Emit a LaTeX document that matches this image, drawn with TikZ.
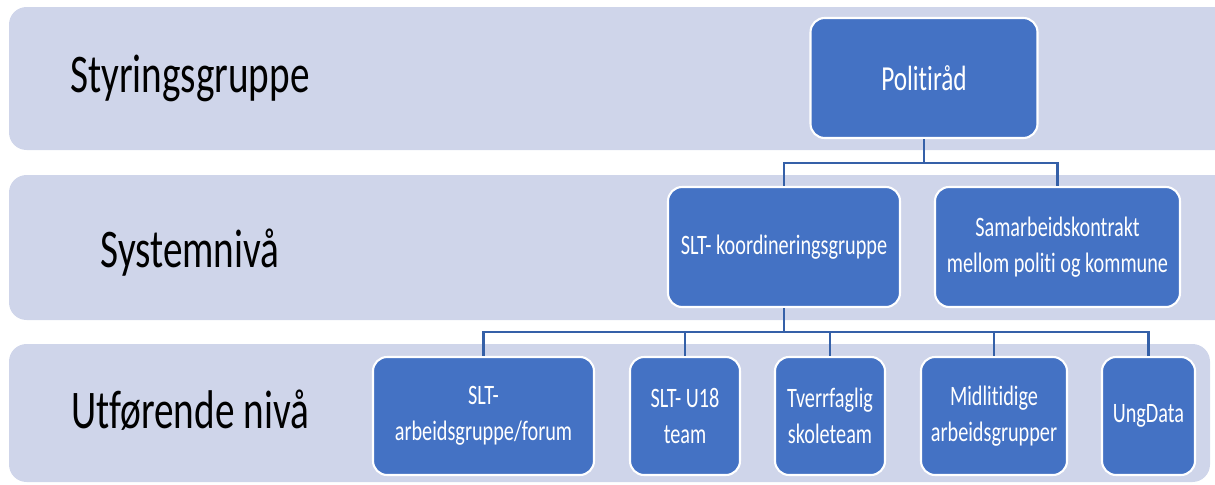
\documentclass[tikz,border=0pt]{standalone}
\usepackage{fontspec}
\setmainfont{Carlito}[FakeStretch=0.72, Ligatures=NoCommon]
\usepackage{tikz}
\usepackage{xcolor}
\definecolor{bandfill}{HTML}{CFD5EA}
\definecolor{boxfill}{HTML}{4472C4}
\definecolor{linkblue}{HTML}{3560A8}

\begin{document}
\begin{tikzpicture}[x=0.02cm, y=-0.02cm,
		band/.style = {fill=bandfill, rounded corners=10},
		level/.style = {anchor=base, font=\fontsize{31}{36}\selectfont},
		unit/.style = {draw=white, line width=1.2pt, fill=boxfill, rounded corners=8,
			text=white, align=center, minimum height=2.4cm, inner sep=2pt,
			font=\fontsize{16}{20.8}\selectfont},
		link/.style = {draw=linkblue, line width=1.2pt}]
		\clip (0,0) rectangle (1215,484);
		% bands
		\fill[band] (9,7) rectangle (1240,150);
		\fill[band] (9,175) rectangle (1240,320);
		\fill[band] (9,344) rectangle (1210,482);
		\node[level] (styr) at (190,92) {Styringsgruppe};
		\node[level] (sys) at (190,267) {Systemnivå};
		\node[level] (utf) at (190,428) {Utførende nivå};
		% top
		\node[unit, minimum width=4.54cm, font=\fontsize{20}{24}\selectfont] (polit) at (924,78) {Politiråd};
		% middle
		\node[unit, minimum width=4.64cm] (koord) at (784,247) {SLT- koordineringsgruppe};
		\node[unit, minimum width=4.9cm] (samarb) at (1057.5,247) {Samarbeidskontrakt\\mellom politi og kommune};
		% bottom
		\node[unit, minimum width=4.42cm, minimum height=2.36cm] (arb) at (483.5,416) {SLT-\\arbeidsgruppe/forum};
		\node[unit, minimum width=2.2cm, minimum height=2.36cm] (u18) at (685,416) {SLT- U18\\team};
		\node[unit, minimum width=2.2cm, minimum height=2.36cm] (tverr) at (830,416) {Tverrfaglig\\skoleteam};
		\node[unit, minimum width=2.92cm, minimum height=2.36cm] (midl) at (994,416) {Midlitidige\\arbeidsgrupper};
		\node[unit, minimum width=1.86cm, minimum height=2.36cm] (ung) at (1148.5,416) {UngData};
		% connectors
		\coordinate (bus1) at (0,163);
		\coordinate (bus2) at (0,332);
		\draw[link] (polit.south) -- (polit.south |- bus1);
		\draw[link] (koord.north) |- (bus1 -| samarb.north) -- (samarb.north);
		\draw[link] (koord.south) -- (koord.south |- bus2);
		\draw[link] (arb.north) |- (bus2 -| ung.north) -- (ung.north);
		\foreach \n in {u18, tverr, midl}
			\draw[link] (\n.north) -- (\n.north |- bus2);
\end{tikzpicture}
\end{document}
